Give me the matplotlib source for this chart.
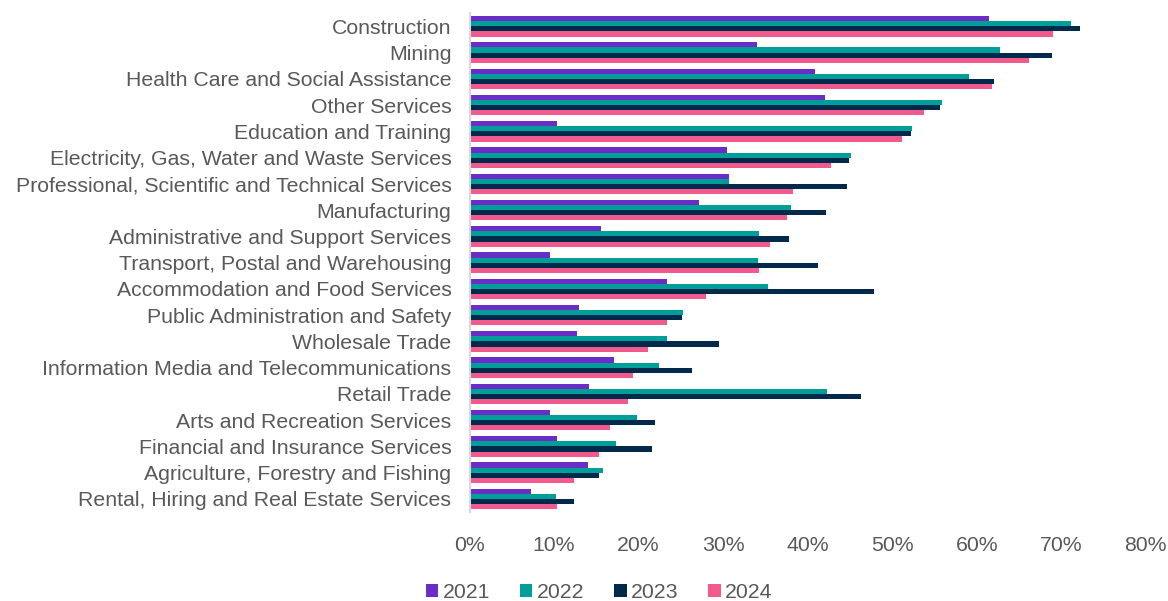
import numpy as np
import matplotlib.pyplot as plt
from matplotlib.ticker import PercentFormatter

plt.rcParams['font.family'] = ['Liberation Sans', 'DejaVu Sans']

industries = [
    "Construction",
    "Mining",
    "Health Care and Social Assistance",
    "Other Services",
    "Education and Training",
    "Electricity, Gas, Water and Waste Services",
    "Professional, Scientific and Technical Services",
    "Manufacturing",
    "Administrative and Support Services",
    "Transport, Postal and Warehousing",
    "Accommodation and Food Services",
    "Public Administration and Safety",
    "Wholesale Trade",
    "Information Media and Telecommunications",
    "Retail Trade",
    "Arts and Recreation Services",
    "Financial and Insurance Services",
    "Agriculture, Forestry and Fishing",
    "Rental, Hiring and Real Estate Services",
]

y2021 = [61.4, 34.0, 40.9, 42.1, 10.4, 30.5, 30.7, 27.2, 15.6, 9.5,
         23.4, 12.9, 12.7, 17.1, 14.1, 9.5, 10.4, 14.0, 7.3]
y2022 = [71.2, 62.8, 59.1, 55.9, 52.4, 45.1, 30.7, 38.0, 34.2, 34.1,
         35.3, 25.2, 23.4, 22.4, 42.3, 19.8, 17.3, 15.8, 10.2]
y2023 = [72.2, 68.9, 62.0, 55.6, 52.2, 44.9, 44.7, 42.2, 37.8, 41.2,
         47.8, 25.1, 29.5, 26.3, 46.3, 21.9, 21.6, 15.3, 12.4]
y2024 = [69.0, 66.2, 61.8, 53.8, 51.1, 42.8, 38.3, 37.6, 35.5, 34.2,
         28.0, 23.3, 21.1, 19.3, 18.8, 16.6, 15.3, 12.4, 10.3]

years = ["2021", "2022", "2023", "2024"]
colors = ["#6A2EC6", "#009E98", "#00294B", "#F25A8E"]
series = [y2021, y2022, y2023, y2024]

fig = plt.figure(figsize=(11.68, 6.01), dpi=100)
ax = fig.add_axes([0.402, 0.148, 0.579, 0.83])

pos = np.arange(len(industries))
h = 0.195
for i, (vals, col, lab) in enumerate(zip(series, colors, years)):
    ax.barh(pos + (i - 1.5) * h, vals, height=h, color=col, label=lab)

ax.set_ylim(len(industries) - 0.5, -0.5)
ax.set_xlim(0, 80)
ax.set_yticks(pos)
ax.set_yticklabels(industries)
ax.xaxis.set_major_formatter(PercentFormatter(decimals=0))
ax.set_xticks(range(0, 81, 10))
ax.tick_params(axis='both', length=0, labelsize=15.3, colors='#595959')
ax.tick_params(axis='y', pad=13)
ax.tick_params(axis='x', pad=17)

for s in ['top', 'right', 'bottom']:
    ax.spines[s].set_visible(False)
ax.spines['left'].set_color('#D9D9D9')
ax.spines['left'].set_linewidth(1.5)

fig.legend(loc='lower center', bbox_to_anchor=(0.513, -0.019), ncol=4, frameon=False,
           fontsize=15.3, handlelength=0.6, handleheight=0.6, handletextpad=0.2,
           columnspacing=1.4, borderpad=0.0, labelcolor='#595959')

fig.savefig("out.png", dpi=100)
